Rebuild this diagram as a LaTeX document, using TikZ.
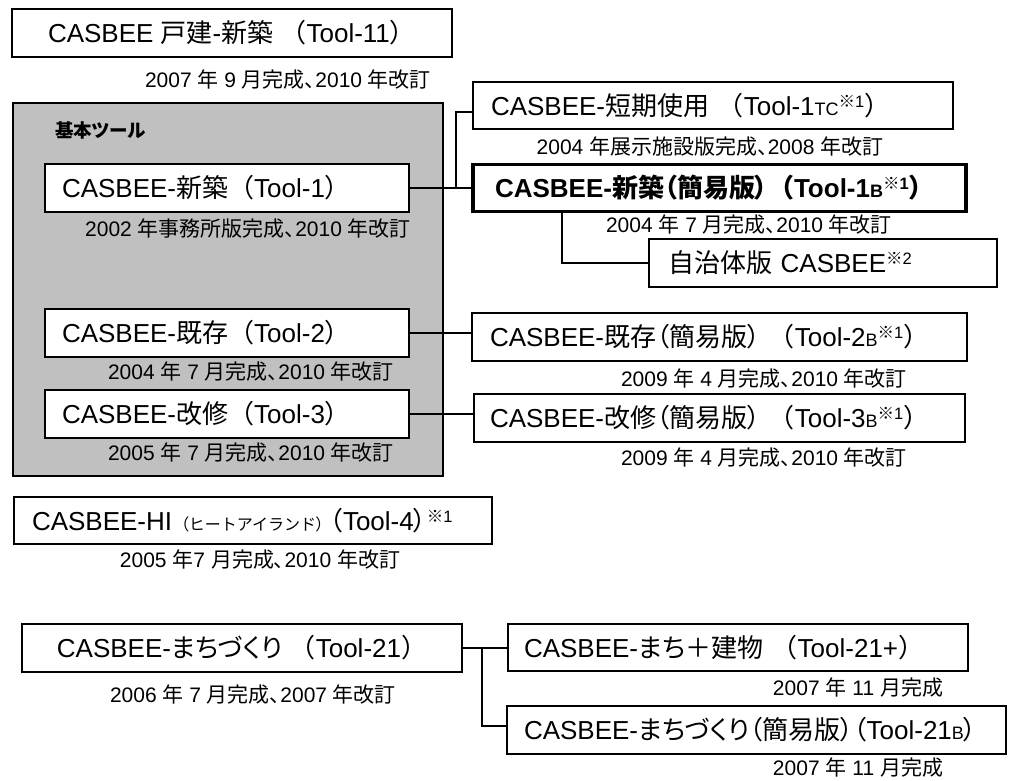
\documentclass[tikz,border=0pt]{standalone}
\usepackage{fontspec}
\setmainfont{Liberation Sans}
\newfontfamily\jpfont{Noto Sans CJK JP}
\newfontfamily\jppaltfont[RawFeature=+palt]{Noto Sans CJK JP}
\newcommand\jpj[1]{{\jpfont #1}}
\newcommand\jpp[1]{{\jppaltfont #1}}
\newcommand\fnm[1]{\raisebox{8pt}{\fontsize{16.5}{16.5}\selectfont\jpj{※}#1}}
\newcommand\scp[1]{{\fontsize{18}{18}\selectfont #1}}
\definecolor{basegray}{RGB}{192,192,192}
\tikzset{
  box/.style={draw=black, line width=1.5pt, fill=white, inner ysep=0pt, font=\fontsize{26}{30}\selectfont},
  lbox/.style={box, align=left},
  cbox/.style={box, align=center},
  boldbox/.style={lbox, line width=3.5pt, font=\bfseries\fontsize{26}{30}\selectfont},
  datelbl/.style={inner sep=0pt, font=\fontsize{21}{24}\selectfont},
  conn/.style={line width=1.5pt},
  basic/.style={draw=black, line width=1.5pt, fill=basegray},
}
\begin{document}
\begin{tikzpicture}[x=1pt,y=-1pt]
\useasboundingbox (0,0) rectangle (1012,781);
\fill[white] (0,0) rectangle (1012,781);

% top tool
\node[cbox, minimum width=440, minimum height=48] (t11) at (232,33)
  {CASBEE \jpj{戸建}-\jpj{新築} \jpj{（}Tool-11\jpj{）}};
\node[datelbl] (d11) at (288,80) {2007 \jpj{年} 9 \jpj{月完成}\jpp{、}2010 \jpj{年改訂}};

% basic tools group
\node[basic, minimum width=430, minimum height=373] (basic) at (228,289.5) {};
\node[anchor=west, inner sep=0pt, font=\bfseries\fontsize{18.5}{20}\selectfont] (kihon) at (55,130) {\jpp{基本ツール}};

\node[lbox, text width=330, inner xsep=17, minimum height=48] (t1) at (227,188)
  {\mbox{CASBEE-\jpj{新築（}Tool-1\jpj{）}}};
\node[datelbl] (d1) at (248,229) {2002 \jpj{年事務所版完成}\jpp{、}2010 \jpj{年改訂}};

\node[lbox, text width=330, inner xsep=17, minimum height=48] (t2) at (227,333)
  {\mbox{CASBEE-\jpj{既存（}Tool-2\jpj{）}}};
\node[datelbl] (d2) at (251,372) {2004 \jpj{年} 7 \jpj{月完成}\jpp{、}2010 \jpj{年改訂}};

\node[lbox, text width=330, inner xsep=17, minimum height=48] (t3) at (227,414)
  {\mbox{CASBEE-\jpj{改修（}Tool-3\jpj{）}}};
\node[datelbl] (d3) at (251,453) {2005 \jpj{年} 7 \jpj{月完成}\jpp{、}2010 \jpj{年改訂}};

% right column
\node[lbox, text width=444, inner xsep=18, minimum height=47] (t1tc) at (713,105.5)
  {\mbox{CASBEE-\jpj{短期使用} \jpj{（}Tool-1\scp{TC}\fnm{1}\jpj{）}}};
\node[datelbl] (dtc) at (710,147) {2004 \jpj{年展示施設版完成}\jpp{、}2008 \jpj{年改訂}};

\node[boldbox, text width=449, inner xsep=22, minimum height=47] (t1b) at (719.5,188)
  {\mbox{CASBEE-\jpp{新築（簡易版）}\jpj{（}Tool-1\scp{B}\fnm{1}\jpj{）}}};
\node[datelbl] (d1b) at (749,225) {2004 \jpj{年} 7 \jpj{月完成}\jpp{、}2010 \jpj{年改訂}};

\node[lbox, text width=310, inner xsep=19, minimum height=48] (jichi) at (823,263)
  {\mbox{\jpj{自治体版} CASBEE\fnm{2}}};

\node[lbox, text width=459, inner xsep=18, minimum height=48] (t2b) at (719.5,337)
  {\mbox{CASBEE-\jpp{既存（簡易版）} \jpj{（}Tool-2\scp{B}\fnm{1}\jpj{）}}};
\node[datelbl] (d2b) at (764,379) {2009 \jpj{年} 4 \jpj{月完成}\jpp{、}2010 \jpj{年改訂}};

\node[lbox, text width=459, inner xsep=16, minimum height=48] (t3b) at (719.5,418)
  {\mbox{CASBEE-\jpp{改修（簡易版）} \jpj{（}Tool-3\scp{B}\fnm{1}\jpj{）}}};
\node[datelbl] (d3b) at (764,458) {2009 \jpj{年} 4 \jpj{月完成}\jpp{、}2010 \jpj{年改訂}};

% HI
\node[lbox, text width=442, inner xsep=18, minimum height=47] (t4) at (253,520.5)
  {\mbox{CASBEE-HI {\fontsize{16}{16}\selectfont\jpp{（}\jpj{ヒートアイランド}\jpp{）}}\hspace{6pt}\jpp{（}Tool-4\jpp{）}\fnm{1}}};
\node[datelbl] (d4) at (260,560) {2005 \jpj{年}7 \jpj{月完成}\jpp{、}2010 \jpj{年改訂}};

% town tools
\node[cbox, minimum width=440, minimum height=48] (t21) at (242,648)
  {CASBEE-\jpp{まちづくり} \jpj{（}Tool-21\jpj{）}};
\node[datelbl] (d21) at (253,695) {2006 \jpj{年} 7 \jpj{月完成}\jpp{、}2007 \jpj{年改訂}};

\node[lbox, text width=428, inner xsep=16, minimum height=47] (t21p) at (738,647.5)
  {\mbox{CASBEE-\jpp{まち＋建物} \jpj{（}Tool-21+\jpj{）}}};
\node[datelbl] (d21p) at (858,688) {2007 \jpj{年} 11 \jpj{月完成}};

\node[lbox, text width=465, inner xsep=17, minimum height=48] (t21b) at (756.5,730)
  {\mbox{CASBEE-\jpp{まちづくり（簡易版）（}Tool-21\scp{B}\jpp{）}}};
\node[datelbl] (d21b) at (858,768) {2007 \jpj{年} 11 \jpj{月完成}};

% connectors
\coordinate (j1) at (456,188);
\coordinate (j1t) at (456,112);
\draw[conn] (t1.east) -- (t1b.west);
\draw[conn] (j1) -- (j1t) -- (j1t -| t1tc.west);
\coordinate (j2) at (562,263);
\draw[conn] (t1b.south -| j2) -- (j2) -- (jichi.west);
\draw[conn] (t2.east) -- (t2.east -| t2b.west);
\draw[conn] (t3.east) -- (t3.east -| t3b.west);
\draw[conn] (t21.east) -- (t21.east -| t21p.west);
\coordinate (j3) at (482,648);
\coordinate (j3b) at (482,726);
\draw[conn] (j3) -- (j3b) -- (j3b -| t21b.west);
\end{tikzpicture}
\end{document}
